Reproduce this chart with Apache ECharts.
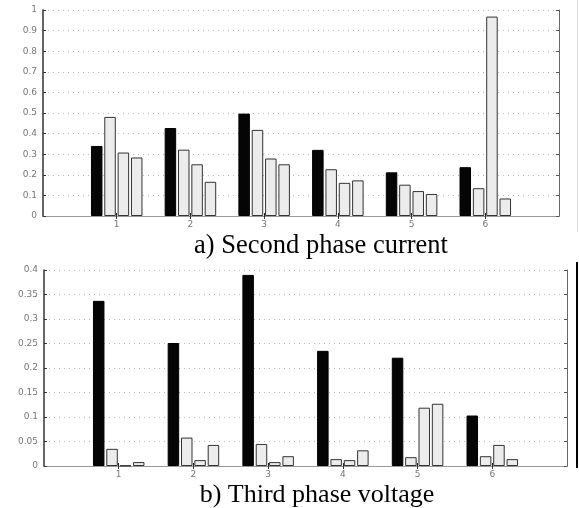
<!DOCTYPE html>
<html>
<head>
<meta charset="utf-8">
<script src="https://cdn.jsdelivr.net/npm/echarts@6/dist/echarts.min.js"></script>
<style>
html,body{margin:0;padding:0;background:#fff;}
#chart{width:579px;height:508px;}
</style>
</head>
<body>
<div id="chart"></div>
<script>
// x positions 0..7 (MATLAB xlim), bars at 1..6
var categories = ['0', '1', '2', '3', '4', '5', '6', '7'];
var tickLabels = ['', '1', '2', '3', '4', '5', '6', ''];

// a) Second phase current
var currentS1 = [null, 0.34, 0.427, 0.497, 0.321, 0.212, 0.237, null];
var currentS2 = [null, 0.481, 0.322, 0.418, 0.227, 0.152, 0.135, null];
var currentS3 = [null, 0.308, 0.251, 0.279, 0.161, 0.121, 0.968, null];
var currentS4 = [null, 0.284, 0.166, 0.251, 0.173, 0.107, 0.085, null];

// b) Third phase voltage
var voltageS1 = [null, 0.337, 0.251, 0.39, 0.235, 0.221, 0.103, null];
var voltageS2 = [null, 0.035, 0.058, 0.045, 0.014, 0.018, 0.02, null];
var voltageS3 = [null, 0.001, 0.012, 0.008, 0.012, 0.119, 0.043, null];
var voltageS4 = [null, 0.008, 0.043, 0.02, 0.032, 0.127, 0.014, null];

var titleA = 'a) Second phase current';
var titleB = 'b) Third phase voltage';

var chart = echarts.init(document.getElementById('chart'), null, {renderer: 'canvas'});

var labelStyle = {color: '#777', fontSize: 9, fontFamily: 'DejaVu Sans'};

function xAxisPair(gridIndex) {
  return [
    {
      type: 'category', gridIndex: gridIndex, data: categories, boundaryGap: false,
      axisLine: {lineStyle: {color: '#333', width: 1}},
      axisTick: {show: true, inside: true, length: 3, lineStyle: {color: '#222'},
        interval: function (i) { return i > 0 && i < 7; }},
      axisLabel: Object.assign({interval: 0, margin: 4, formatter: function (v, i) { return tickLabels[i]; }}, labelStyle),
      splitLine: {show: false}
    },
    {
      type: 'category', gridIndex: gridIndex, data: categories, boundaryGap: false, position: 'top',
      axisLine: {lineStyle: {color: '#999', width: 1}},
      axisTick: {show: true, inside: true, length: 3, lineStyle: {color: '#333'},
        interval: function (i) { return i > 0 && i < 7; }},
      axisLabel: {show: false},
      splitLine: {show: false}
    }
  ];
}

function yAxisPair(gridIndex, max, interval) {
  return [
    {
      type: 'value', gridIndex: gridIndex, min: 0, max: max, interval: interval,
      axisLine: {show: true, lineStyle: {color: '#333', width: 1.5}},
      axisTick: {show: true, inside: true, length: 3, lineStyle: {color: '#333'}},
      axisLabel: Object.assign({margin: 6}, labelStyle),
      splitLine: {show: true, lineStyle: {color: '#b8b8c8', type: [1, 4], width: 1}}
    },
    {
      type: 'value', gridIndex: gridIndex, min: 0, max: max, interval: interval, position: 'right',
      axisLine: {show: true, lineStyle: {color: '#666', width: 1}},
      axisTick: {show: true, inside: true, length: 3, lineStyle: {color: '#555'}},
      axisLabel: {show: false},
      splitLine: {show: false}
    }
  ];
}

var blackStyle = {color: '#050505', borderColor: '#000', borderWidth: 1};
var greyStyle = {color: '#ececec', borderColor: '#333', borderWidth: 1};

function bar(data, xi, yi, style) {
  return {
    type: 'bar', data: data, xAxisIndex: xi, yAxisIndex: yi,
    barWidth: 11.5, barGap: '16%', itemStyle: style, silent: true, animation: false
  };
}

var xs = xAxisPair(0).concat(xAxisPair(1));
var ys = yAxisPair(0, 1, 0.1).concat(yAxisPair(1, 0.4, 0.05));

chart.setOption({
  animation: false,
  backgroundColor: '#fff',
  title: [
    {text: titleA, left: 316, top: 228, textAlign: 'center',
      textStyle: {fontFamily: 'Liberation Serif', fontSize: 26.5, fontWeight: 'normal', color: '#000'}},
    {text: titleB, left: 312, top: 477, textAlign: 'center',
      textStyle: {fontFamily: 'Liberation Serif', fontSize: 26, fontWeight: 'normal', color: '#000'}}
  ],
  grid: [
    {left: 43, right: 20, top: 10, bottom: 292},
    {left: 44, right: 12, top: 270, bottom: 42}
  ],
  xAxis: xs,
  yAxis: ys,
  series: [
    bar(currentS1, 0, 0, blackStyle),
    bar(currentS2, 0, 0, greyStyle),
    bar(currentS3, 0, 0, greyStyle),
    bar(currentS4, 0, 0, greyStyle),
    bar(voltageS1, 2, 2, blackStyle),
    bar(voltageS2, 2, 2, greyStyle),
    bar(voltageS3, 2, 2, greyStyle),
    bar(voltageS4, 2, 2, greyStyle)
  ],
  graphic: [
    {type: 'line', shape: {x1: 577.5, y1: 0, x2: 577.5, y2: 232}, style: {stroke: '#ddd', lineWidth: 1}},
    {type: 'line', shape: {x1: 577, y1: 262, x2: 577, y2: 468}, style: {stroke: '#000', lineWidth: 2}}
  ]
});
</script>
</body>
</html>
